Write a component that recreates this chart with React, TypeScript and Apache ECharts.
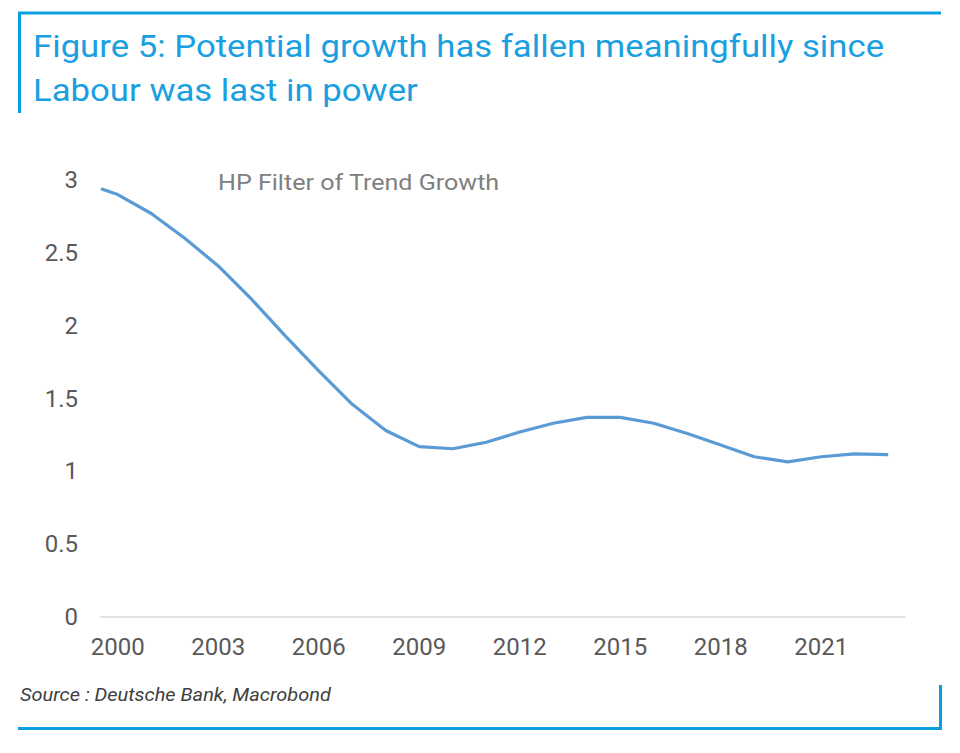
import React, { useEffect, useRef } from "react";
import * as echarts from "echarts";

const years = [1999.5, 2000, 2001, 2002, 2003, 2004, 2005, 2006, 2007, 2008, 2009, 2010, 2011, 2012, 2013, 2014, 2015, 2016, 2017, 2018, 2019, 2020, 2021, 2022, 2023];
const trendGrowth = [2.94, 2.9, 2.77, 2.6, 2.41, 2.18, 1.93, 1.69, 1.46, 1.28, 1.17, 1.155, 1.2, 1.27, 1.33, 1.37, 1.37, 1.33, 1.26, 1.18, 1.1, 1.065, 1.1, 1.12, 1.115];
const xTickLabels = [2000, 2003, 2006, 2009, 2012, 2015, 2018, 2021];
const yTicks = [0, 0.5, 1, 1.5, 2, 2.5, 3];

const titleLine1 = "Figure 5: Potential growth has fallen meaningfully since";
const titleLine2 = "Labour was last in power";
const seriesName = "HP Filter of Trend Growth";
const sourceText = "Source : Deutsche Bank, Macrobond";

const BLUE = "#0a9fe2";
const FONT = "Roboto, 'Liberation Sans', sans-serif";

export default function App() {
  const ref = useRef<HTMLDivElement>(null);
  useEffect(() => {
    if (!ref.current) return;
    const chart = echarts.init(ref.current, null, { renderer: "svg" });
    const titleStyle = { fill: "#1a9fe0", fontSize: 31, fontFamily: FONT, verticalAlign: "middle" };
    chart.setOption({
      animation: false,
      backgroundColor: "#ffffff",
      grid: { left: 101, right: 55, top: 180, bottom: 136, containLabel: false },
      xAxis: {
        type: "value",
        min: 1999.5,
        max: 2023.5,
        axisLine: { show: true, lineStyle: { color: "#d9d9d9", width: 1.5 } },
        axisTick: { show: false },
        splitLine: { show: false },
        axisLabel: {
          customValues: xTickLabels,
          formatter: (v: number) => String(Math.round(v)),
          color: "#595959",
          fontSize: 24,
          fontFamily: FONT,
          margin: 18,
        },
      },
      yAxis: {
        type: "value",
        min: yTicks[0],
        max: yTicks[yTicks.length - 1],
        interval: 0.5,
        axisLine: { show: false },
        axisTick: { show: false },
        splitLine: { show: false },
        axisLabel: { color: "#595959", fontSize: 24, fontFamily: FONT, margin: 23 },
      },
      series: [
        {
          name: seriesName,
          type: "line",
          data: years.map((y, i) => [y, trendGrowth[i]]),
          showSymbol: false,
          smooth: false,
          lineStyle: { color: "#5b9bd5", width: 3.2 },
        },
      ],
      graphic: [
        { type: "text", x: 33, y: 46, scaleX: 1.12, style: { ...titleStyle, text: titleLine1 } },
        { type: "text", x: 33, y: 90, scaleX: 1.12, style: { ...titleStyle, text: titleLine2 } },
        { type: "text", x: 218, y: 183, scaleX: 1.14, style: { text: seriesName, fill: "#808080", fontSize: 22, fontFamily: FONT, verticalAlign: "middle" } },
        { type: "text", x: 20, y: 695, scaleX: 1.11, style: { text: sourceText, fill: "#404040", fontSize: 18, fontStyle: "italic", fontFamily: FONT, verticalAlign: "middle" } },
        { type: "line", shape: { x1: 18, y1: 13, x2: 941, y2: 13 }, style: { stroke: BLUE, lineWidth: 3 } },
        { type: "line", shape: { x1: 19.5, y1: 12, x2: 19.5, y2: 113 }, style: { stroke: BLUE, lineWidth: 3 } },
        { type: "line", shape: { x1: 18, y1: 728.5, x2: 942, y2: 728.5 }, style: { stroke: BLUE, lineWidth: 3 } },
        { type: "line", shape: { x1: 940.5, y1: 685, x2: 940.5, y2: 730 }, style: { stroke: BLUE, lineWidth: 3 } },
      ],
    });
    return () => chart.dispose();
  }, []);
  return <div ref={ref} style={{ position: "absolute", left: 0, top: 0, width: 960, height: 753 }} />;
}
